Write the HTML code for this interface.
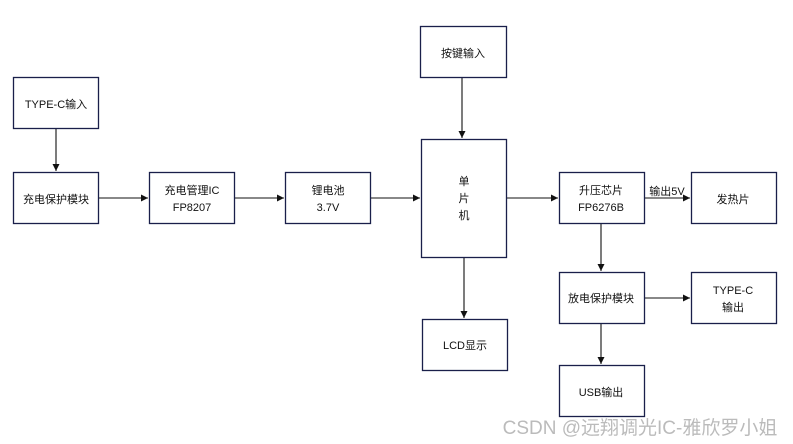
<!DOCTYPE html>
<html><head><meta charset="utf-8"><style>
body{margin:0;background:#fff;}
svg{display:block;}
text{font-family:"Liberation Sans","Noto Sans CJK SC",sans-serif;font-size:11px;fill:#111;text-anchor:middle;}
rect{fill:#fff;stroke:#1a1f4a;stroke-width:1.3;}
line{stroke:#111;stroke-width:1.1;}
</style></head><body>
<svg width="793" height="444" viewBox="0 0 793 444">
<defs><marker id="a" markerWidth="8" markerHeight="8" refX="7" refY="4" orient="auto" markerUnits="userSpaceOnUse"><path d="M0,0.5 L7,4 L0,7.5z" fill="#111"/></marker></defs>
<line x1="56" y1="128" x2="56" y2="171" marker-end="url(#a)"/>
<line x1="98" y1="198" x2="148" y2="198" marker-end="url(#a)"/>
<line x1="234" y1="198" x2="284" y2="198" marker-end="url(#a)"/>
<line x1="370" y1="198" x2="420" y2="198" marker-end="url(#a)"/>
<line x1="462" y1="77" x2="462" y2="138" marker-end="url(#a)"/>
<line x1="506" y1="198" x2="558" y2="198" marker-end="url(#a)"/>
<line x1="644" y1="198" x2="690" y2="198" marker-end="url(#a)"/>
<line x1="464" y1="257" x2="464" y2="318" marker-end="url(#a)"/>
<line x1="601" y1="223" x2="601" y2="271" marker-end="url(#a)"/>
<line x1="644" y1="298" x2="690" y2="298" marker-end="url(#a)"/>
<line x1="601" y1="323" x2="601" y2="364" marker-end="url(#a)"/>
<rect x="13.5" y="77.5" width="85" height="51"/>
<rect x="13.5" y="172.5" width="85" height="51"/>
<rect x="149.5" y="172.5" width="85" height="51"/>
<rect x="285.5" y="172.5" width="85" height="51"/>
<rect x="421.5" y="139.5" width="85" height="118"/>
<rect x="420.5" y="26.5" width="86" height="51"/>
<rect x="559.5" y="172.5" width="85" height="51"/>
<rect x="691.5" y="172.5" width="85" height="51"/>
<rect x="559.5" y="272.5" width="85" height="51"/>
<rect x="691.5" y="272.5" width="85" height="51"/>
<rect x="422.5" y="319.5" width="85" height="51"/>
<rect x="559.5" y="365.5" width="85" height="51"/>
<text x="56" y="108">TYPE-C输入</text>
<text x="56" y="203">充电保护模块</text>
<text x="192" y="194">充电管理IC</text>
<text x="192" y="211">FP8207</text>
<text x="328" y="194">锂电池</text>
<text x="328" y="211">3.7V</text>
<text x="463" y="57">按键输入</text>
<text x="464" y="185">单</text>
<text x="464" y="202">片</text>
<text x="464" y="219">机</text>
<text x="601" y="194">升压芯片</text>
<text x="601" y="211">FP6276B</text>
<text x="667" y="195">输出5V</text>
<text x="733" y="203">发热片</text>
<text x="601" y="302">放电保护模块</text>
<text x="733" y="294">TYPE-C</text>
<text x="733" y="311">输出</text>
<text x="465" y="349">LCD显示</text>
<text x="601" y="396">USB输出</text>
<text x="640" y="434" style="font-size:19px;fill:#bbb;">CSDN @远翔调光IC-雅欣罗小姐</text>
</svg>
</body></html>
